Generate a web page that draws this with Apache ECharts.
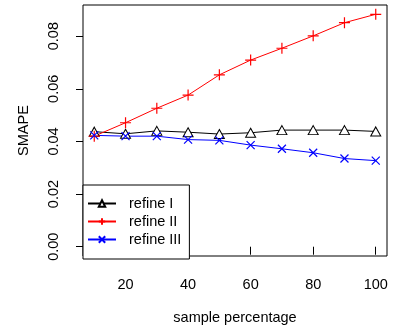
<!DOCTYPE html>
<html>
<head>
<meta charset="utf-8">
<script src="https://cdn.jsdelivr.net/npm/echarts@6/dist/echarts.min.js"></script>
<style>
  html, body { margin: 0; padding: 0; background: #fff; }
  #chart { width: 396px; height: 330px; }
</style>
</head>
<body>
<div id="chart"></div>
<script>
// sample percentage on x
const samplePct = [10, 20, 30, 40, 50, 60, 70, 80, 90, 100];

// SMAPE per method
const refineI   = [0.0437, 0.0429, 0.0440, 0.0435, 0.0428, 0.0433, 0.0443, 0.0443, 0.0443, 0.0438];
const refineII  = [0.0420, 0.0471, 0.0526, 0.0576, 0.0653, 0.0709, 0.0754, 0.0801, 0.0851, 0.0883];
const refineIII = [0.0423, 0.0420, 0.0420, 0.0407, 0.0404, 0.0386, 0.0372, 0.0357, 0.0335, 0.0327];

// axis ticks
const xTicks = [20, 40, 60, 80, 100];
const yTicks = [0, 0.02, 0.04, 0.06, 0.08];

const FONT = "Liberation Sans, Arial, sans-serif";
const FS = 14.5;

// symbols like R's pch 3 (+) and pch 4 (x)
const PLUS = "path://M5,0L5,10M0,5L10,5";
const CROSS = "path://M0,0L10,10M10,0L0,10";

const pairs = ys => samplePct.map((x, i) => [x, ys[i]]);

const chart = echarts.init(document.getElementById("chart"));

chart.setOption({
  animation: false,
  backgroundColor: "#fff",
  textStyle: { fontFamily: FONT, color: "#000" },
  grid: {
    left: 83,
    right: 9,
    top: 5,
    bottom: 73,
    show: true,
    borderColor: "#000",
    borderWidth: 1,
    backgroundColor: "transparent",
  },
  xAxis: {
    type: "value",
    min: 6.4,
    max: 103.6,
    name: "sample percentage",
    nameLocation: "middle",
    nameGap: 54,
    nameTextStyle: { fontFamily: FONT, fontSize: FS, color: "#000" },
    axisLine: { show: false },
    splitLine: { show: false },
    axisTick: {
      show: true,
      customValues: xTicks,
      length: 8,
      lineStyle: { color: "#000", width: 1 },
    },
    axisLabel: {
      customValues: xTicks,
      margin: 21,
      fontFamily: FONT,
      fontSize: FS,
      color: "#000",
    },
  },
  yAxis: {
    type: "value",
    min: -0.00353,
    max: 0.09183,
    name: "SMAPE",
    nameLocation: "middle",
    nameRotate: 90,
    nameGap: 52,
    nameTextStyle: { fontFamily: FONT, fontSize: FS, color: "#000" },
    axisLine: { show: false },
    splitLine: { show: false },
    axisTick: {
      show: true,
      customValues: yTicks,
      length: 7,
      lineStyle: { color: "#000", width: 1 },
    },
    axisLabel: {
      customValues: yTicks,
      rotate: 90,
      margin: 22,
      fontFamily: FONT,
      fontSize: FS,
      color: "#000",
      formatter: v => v.toFixed(2),
    },
  },
  legend: {
    orient: "vertical",
    left: 83,
    top: 185,
    padding: [11, 8, 12, 4],
    itemWidth: 28,
    itemHeight: 8,
    itemGap: 3,
    backgroundColor: "#fff",
    borderColor: "#000",
    borderWidth: 1,
    borderRadius: 0,
    textStyle: { fontFamily: FONT, fontSize: FS, color: "#000", padding: [0, 0, 0, 8] },
    data: ["refine I", "refine II", "refine III"],
  },
  series: [
    {
      name: "refine I",
      type: "line",
      data: pairs(refineI),
      symbol: "triangle",
      symbolSize: [10, 9],
      lineStyle: { color: "#000", width: 1 },
      itemStyle: { color: "#fff", borderColor: "#000", borderWidth: 1 },
    },
    {
      name: "refine II",
      type: "line",
      data: pairs(refineII),
      symbol: PLUS,
      symbolSize: 11,
      lineStyle: { color: "#ff0000", width: 1 },
      itemStyle: { color: "transparent", borderColor: "#ff0000", borderWidth: 1.2 },
    },
    {
      name: "refine III",
      type: "line",
      data: pairs(refineIII),
      symbol: CROSS,
      symbolSize: 8,
      lineStyle: { color: "#0000ff", width: 1 },
      itemStyle: { color: "transparent", borderColor: "#0000ff", borderWidth: 1.2 },
    },
  ],
});
</script>
</body>
</html>
